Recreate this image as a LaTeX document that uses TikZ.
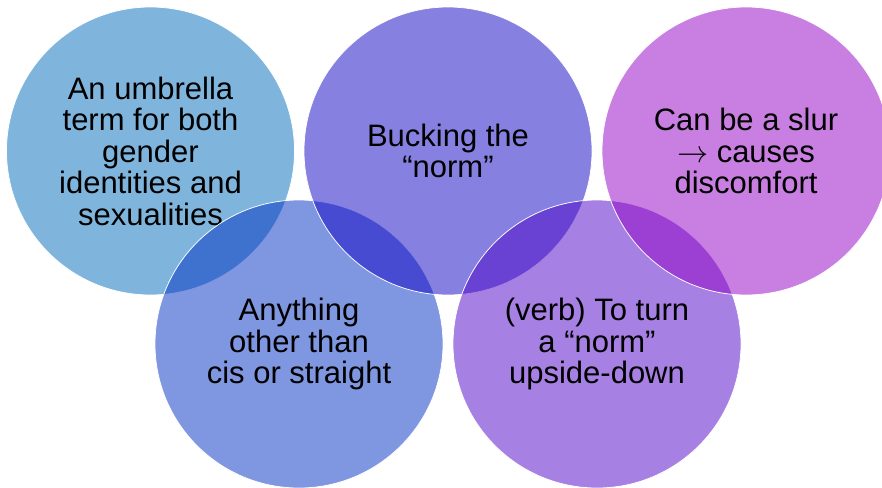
\documentclass[tikz,border=0pt]{standalone}
\usepackage{fontspec}
\setmainfont{Liberation Sans}
\definecolor{umbrblue}{RGB}{0, 107, 186}
\definecolor{otherblue}{RGB}{0, 46, 194}
\definecolor{buckviolet}{RGB}{14, 2, 194}
\definecolor{verbviolet}{RGB}{78, 2, 198}
\definecolor{slurpurple}{RGB}{146, 0, 196}
\usepackage{tikz}

\begin{document}
\begin{tikzpicture}[x=1pt, y=-1pt,
  vennbox/.style={circle, minimum size=288pt, inner sep=0pt, draw=white, line width=0.75pt, fill opacity=0.5, text opacity=1, align=center, font=\fontsize{31}{31.5}\selectfont}
]
  \useasboundingbox (0,0) rectangle (882,487);

  % Upper left
  \node[vennbox, fill=umbrblue] (umbrella) at (150.5, 151) {
    An umbrella\\
    term for both\\
    gender\\
    identities and\\
    sexualities
  };

  % Lower left
  \node[vennbox, fill=otherblue] (other) at (299, 344) {
    Anything\\
    other than\\
    cis or straight
  };

  % Upper middle
  \node[vennbox, fill=buckviolet] (bucking) at (448, 151) {
    Bucking the\\
    “norm”
  };

  % Lower right
  \node[vennbox, fill=verbviolet] (verb) at (597, 344) {
    (verb) To turn\\
    a “norm”\\
    upside-down
  };

  % Upper right
  \node[vennbox, fill=slurpurple] (slur) at (746, 151) {
    Can be a slur\\
    \scalebox{1.25}{$\rightarrow$} causes\\
    discomfort
  };
\end{tikzpicture}
\end{document}
